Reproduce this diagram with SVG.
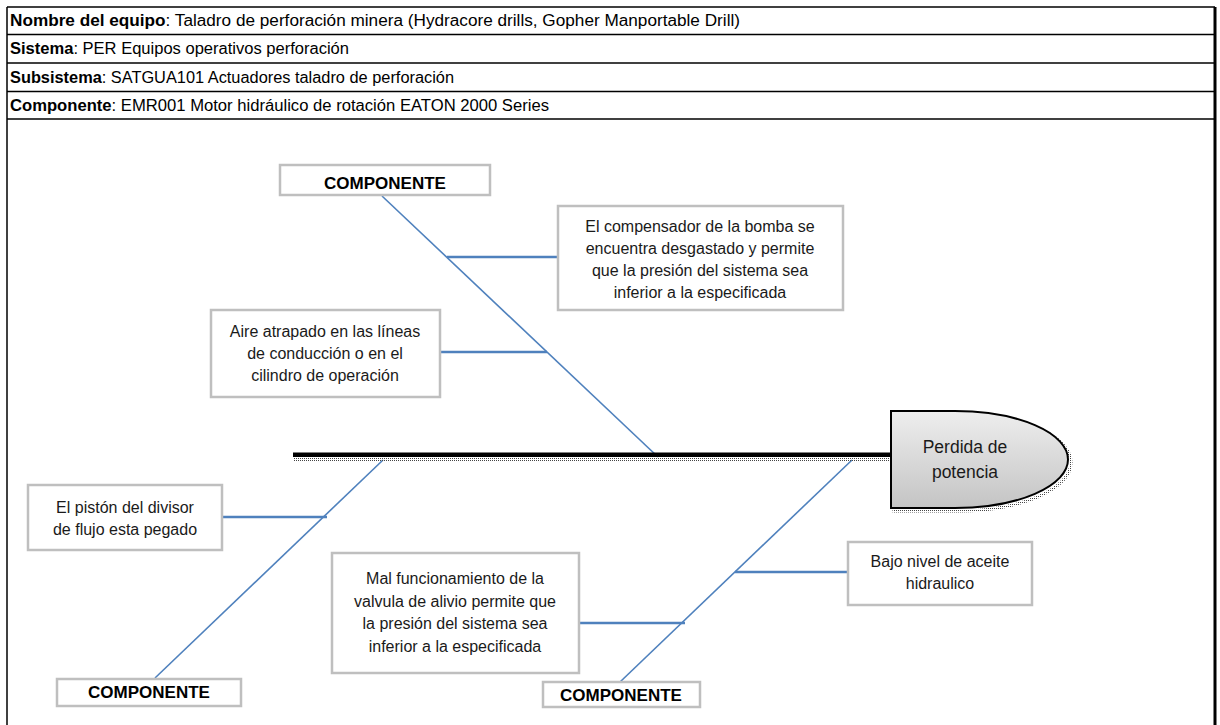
<svg xmlns="http://www.w3.org/2000/svg" width="1220" height="725" viewBox="0 0 1220 725">
<defs>
<linearGradient id="headGrad" x1="0" y1="0" x2="0" y2="1">
<stop offset="0" stop-color="#eeeeee"/>
<stop offset="1" stop-color="#c4c4c4"/>
</linearGradient>
<pattern id="dots" width="2" height="2" patternUnits="userSpaceOnUse">
<rect width="1" height="1" fill="#444"/>
</pattern>
</defs>
<style>
.hdr{font-family:"Liberation Sans",Arial,sans-serif;font-size:16px;fill:#000}
.b{font-weight:bold}
.box{fill:#fff;stroke:#bfbfbf;stroke-width:2.5}
.txt{font-family:"Liberation Sans",Arial,sans-serif;font-size:16px;fill:#1a1a1a;text-anchor:middle}
.comp{font-family:"Liberation Sans",Arial,sans-serif;font-size:17px;font-weight:bold;fill:#000;text-anchor:middle}
.bone{stroke:#4f81bd;stroke-width:1.6;fill:none}
.rib{stroke:#4f81bd;stroke-width:2.5;fill:none}
.frame{stroke:#000;fill:none}
</style>
<rect width="1220" height="725" fill="#fff"/>
<g id="frame">
<line class="frame" x1="7" y1="7" x2="1215" y2="7" stroke-width="1.5"/>
<line class="frame" x1="7" y1="34.5" x2="1215" y2="34.5" stroke-width="1.5"/>
<line class="frame" x1="7" y1="63" x2="1215" y2="63" stroke-width="1.5"/>
<line class="frame" x1="7" y1="91.5" x2="1215" y2="91.5" stroke-width="1.5"/>
<line class="frame" x1="7" y1="119" x2="1215" y2="119" stroke-width="1.5"/>
<line class="frame" x1="7" y1="7" x2="7" y2="725" stroke-width="1.5"/>
<line class="frame" x1="1215" y1="7" x2="1215" y2="725" stroke-width="3"/>
</g>
<g id="header">
<text class="hdr" x="10" y="26" textLength="730" lengthAdjust="spacingAndGlyphs"><tspan class="b">Nombre del equipo</tspan>: Taladro de perforación minera (Hydracore drills, Gopher Manportable Drill)</text>
<text class="hdr" x="10" y="54" textLength="339" lengthAdjust="spacingAndGlyphs"><tspan class="b">Sistema</tspan>: PER Equipos operativos perforación</text>
<text class="hdr" x="10" y="83" textLength="444" lengthAdjust="spacingAndGlyphs"><tspan class="b">Subsistema</tspan>: SATGUA101 Actuadores taladro de perforación</text>
<text class="hdr" x="10" y="111" textLength="539" lengthAdjust="spacingAndGlyphs"><tspan class="b">Componente</tspan>: EMR001 Motor hidráulico de rotación EATON 2000 Series</text>
</g>
<g id="connectors">
<line class="bone" x1="382" y1="196" x2="658" y2="457"/>
<line class="rib" x1="447" y1="257" x2="558" y2="257"/>
<line class="rib" x1="438" y1="352" x2="547" y2="352"/>
<line class="bone" x1="155" y1="678" x2="383" y2="460"/>
<line class="rib" x1="218" y1="517" x2="327" y2="517"/>
<line class="bone" x1="620" y1="682" x2="852" y2="460"/>
<line class="rib" x1="577" y1="623" x2="685" y2="623"/>
<line class="rib" x1="735" y1="572" x2="848" y2="572"/>
</g>
<g id="spine">
<rect x="294" y="457" width="596" height="5" fill="url(#dots)"/>
<rect x="293" y="452.5" width="597" height="4.5" fill="#000"/>
</g>
<g id="head">
<path d="M894,414 H958 A113,48.5 0 0 1 958,511 H894 Z" fill="none" stroke="url(#dots)" stroke-width="3"/>
<path d="M891,411 H955 A113,48.5 0 0 1 955,508 H891 Z" fill="url(#headGrad)" stroke="#000" stroke-width="2"/>
<text class="txt" x="965" y="453" style="font-size:17.5px">Perdida de</text>
<text class="txt" x="965" y="478" style="font-size:17.5px">potencia</text>
</g>
<g id="comp-top">
<rect class="box" x="280" y="165" width="210" height="30"/>
<text class="comp" x="385" y="189">COMPONENTE</text>
</g>
<g id="cause-compensador">
<rect class="box" x="558" y="206" width="285" height="104"/>
<text class="txt" x="700" y="232">El compensador de la bomba se</text>
<text class="txt" x="700" y="254">encuentra desgastado y permite</text>
<text class="txt" x="700" y="276">que la presión del sistema sea</text>
<text class="txt" x="700" y="298">inferior a la especificada</text>
</g>
<g id="cause-aire">
<rect class="box" x="211" y="310" width="229" height="87"/>
<text class="txt" x="325" y="337">Aire atrapado en las líneas</text>
<text class="txt" x="325" y="359">de conducción o en el</text>
<text class="txt" x="325" y="381">cilindro de operación</text>
</g>
<g id="cause-piston">
<rect class="box" x="28" y="485" width="194" height="65"/>
<text class="txt" x="125" y="513">El pistón del divisor</text>
<text class="txt" x="125" y="535">de flujo esta pegado</text>
</g>
<g id="comp-bottom-left">
<rect class="box" x="57" y="679" width="184" height="27"/>
<text class="comp" x="149" y="698">COMPONENTE</text>
</g>
<g id="cause-valvula">
<rect class="box" x="332" y="553" width="247" height="120"/>
<text class="txt" x="455" y="584">Mal funcionamiento de la</text>
<text class="txt" x="455" y="607">valvula de alivio permite que</text>
<text class="txt" x="455" y="629">la presión del sistema sea</text>
<text class="txt" x="455" y="652">inferior a la especificada</text>
</g>
<g id="comp-bottom-right">
<rect class="box" x="543" y="682" width="157" height="25"/>
<text class="comp" x="621" y="701">COMPONENTE</text>
</g>
<g id="cause-aceite">
<rect class="box" x="848" y="542" width="184" height="63"/>
<text class="txt" x="940" y="567">Bajo nivel de aceite</text>
<text class="txt" x="940" y="589">hidraulico</text>
</g>
</svg>
